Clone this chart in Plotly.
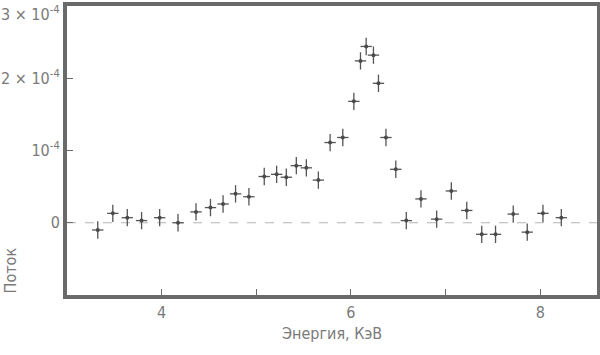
import plotly.graph_objects as go

# Energy (keV) and flux (in units of 1e-4)
energy = [3.325, 3.484, 3.637, 3.788, 3.979, 4.173, 4.363, 4.516, 4.649, 4.781,
          4.922, 5.084, 5.215, 5.317, 5.423, 5.529, 5.656, 5.780, 5.914, 6.031,
          6.101, 6.161, 6.238, 6.291, 6.370, 6.474, 6.585, 6.740, 6.906, 7.061,
          7.224, 7.382, 7.528, 7.715, 7.863, 8.029, 8.223]
flux = [-0.10, 0.13, 0.07, 0.03, 0.07, 0.00, 0.15, 0.21, 0.26, 0.40,
        0.36, 0.64, 0.67, 0.63, 0.79, 0.76, 0.59, 1.11, 1.18, 1.68,
        2.24, 2.44, 2.32, 1.93, 1.18, 0.74, 0.03, 0.33, 0.05, 0.44,
        0.17, -0.16, -0.16, 0.12, -0.13, 0.13, 0.07]
energy_err = [0.06] * len(energy)
flux_err = [0.12] * len(flux)

ytick_vals = [0, 1, 2]
ytick_text = ["0", "10<sup>-4</sup>", "2 × 10<sup>-4</sup>"]
ytop_val = 3
ytop_text = "3 × 10<sup>-4</sup>"
xtick_vals = [4, 5, 6, 7, 8]
xtick_text = ["4", "", "6", "", "8"]

FONT = "DejaVu Sans Condensed, sans-serif"
FRAME = "#6a6a6a"
TXT = "#7a7a7a"

fig = go.Figure()
fig.add_shape(type="line", xref="x", yref="y", x0=3.0, x1=8.6, y0=0, y1=0,
              line=dict(color="#b5b5b5", width=1, dash="dash"), layer="below")
fig.add_trace(go.Scatter(
    x=energy, y=flux, mode="markers",
    marker=dict(size=4, color="#4a4a4a"),
    error_x=dict(type="data", array=energy_err, color="#555555", thickness=1.3, width=0),
    error_y=dict(type="data", array=flux_err, color="#555555", thickness=1.3, width=0),
    showlegend=False, hoverinfo="skip",
))

fig.update_layout(
    width=600, height=355,
    margin=dict(l=67, r=3, t=6, b=60, autoexpand=False),
    paper_bgcolor="white", plot_bgcolor="white",
    font=dict(family=FONT, size=16, color=TXT),
    xaxis=dict(range=[3.0, 8.6], tickvals=xtick_vals, ticktext=xtick_text,
               ticks="inside", ticklen=6, tickwidth=1.3, tickcolor=FRAME,
               showline=True, linewidth=4, linecolor=FRAME, mirror=True,
               showgrid=False, zeroline=False, automargin=False,
               ticklabeloverflow="allow"),
    yaxis=dict(range=[-1.0, 3.0], tickvals=ytick_vals, ticktext=ytick_text,
               ticks="inside", ticklen=6, tickwidth=1.3, tickcolor=FRAME,
               showline=True, linewidth=4, linecolor=FRAME, mirror=True,
               showgrid=False, zeroline=False, automargin=False,
               ticklabeloverflow="allow"),
    annotations=[
        dict(text=ytop_text, xref="paper", yref="y", x=0, y=ytop_val,
             xanchor="right", yanchor="top", xshift=-5, yshift=5,
             showarrow=False, font=dict(size=16, color=TXT)),
        dict(text="Поток", xref="paper", yref="paper", x=-0.107, y=0.086,
             xanchor="center", yanchor="middle", textangle=-90,
             showarrow=False, font=dict(size=16, color=TXT)),
        dict(text="Энергия, КэВ", xref="paper", yref="paper", x=0.5, y=-0.132,
             xanchor="center", yanchor="middle",
             showarrow=False, font=dict(size=16, color=TXT)),
    ],
)

fig.write_html("out.html", config={"displayModeBar": False},
               post_script="document.body.style.margin='0px';")
